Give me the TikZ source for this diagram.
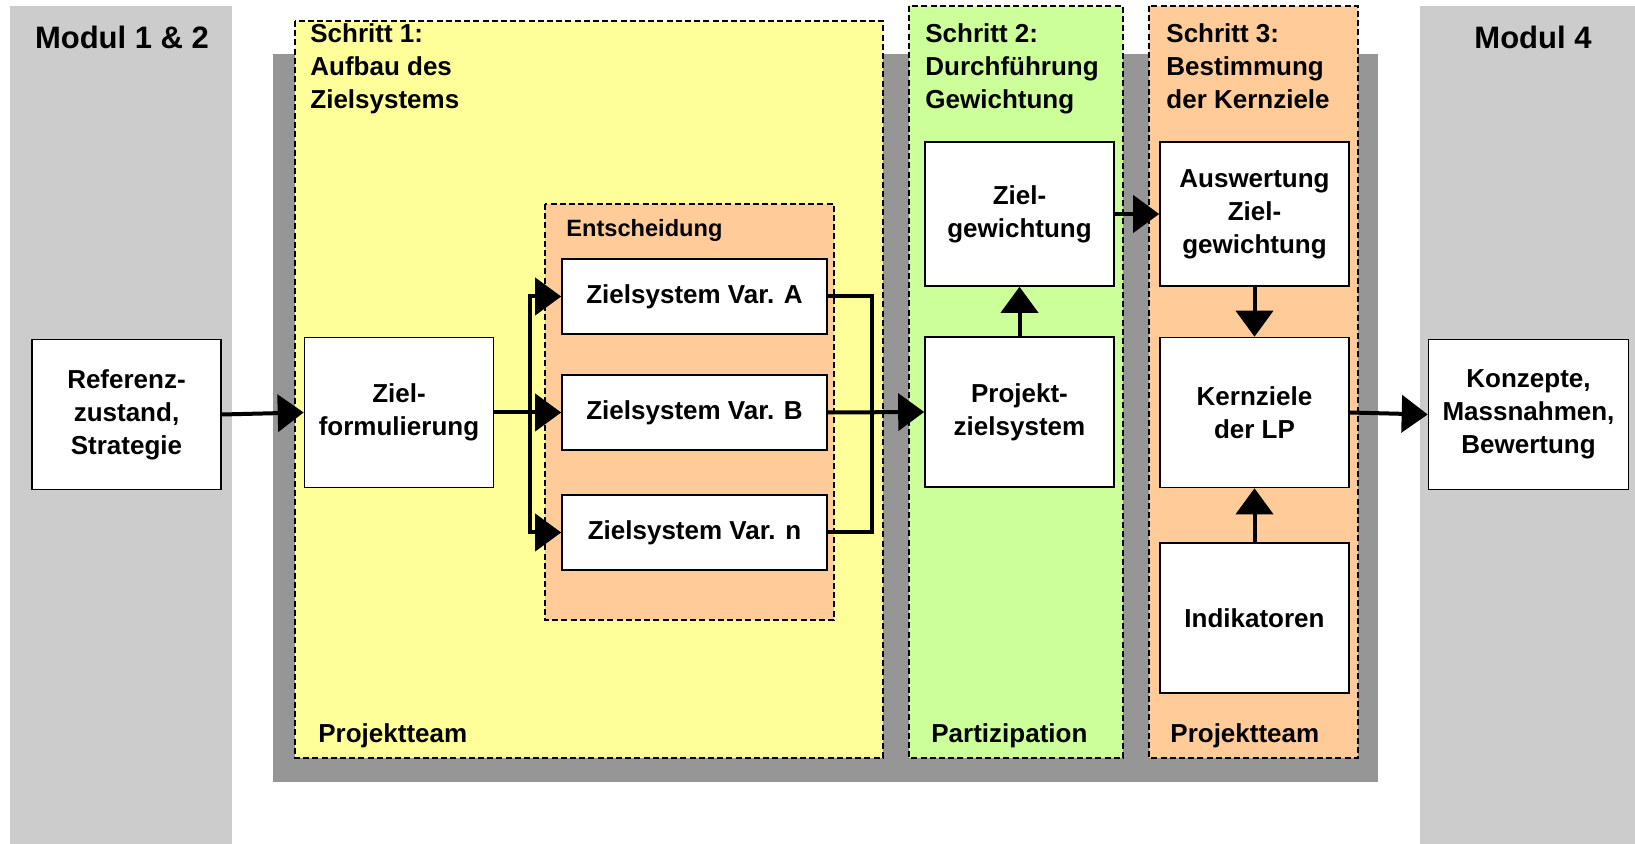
\documentclass[tikz,border=0pt]{standalone}
\usepackage{fontspec}
\setmainfont{Liberation Sans}
\usetikzlibrary{arrows.meta}

\definecolor{modulgray}{RGB}{204,204,204}
\definecolor{backgray}{RGB}{150,150,150}
\definecolor{stepyellow}{RGB}{255,255,153}
\definecolor{stepgreen}{RGB}{204,255,153}
\definecolor{steporange}{RGB}{255,204,153}

\tikzset{
  stepfield/.style={draw=black, line width=0.8pt, dash pattern=on 3pt off 1.6pt},
  bigbox/.style={draw, fill=white, line width=0.8pt, align=center, inner sep=0pt,
    minimum width=94.5pt, minimum height=75pt},
  varbox/.style={draw, fill=white, line width=0.8pt, inner sep=0pt,
    minimum width=132.5pt, minimum height=37.5pt},
  wire/.style={line width=2pt},
  conn/.style={line width=2pt, -{Triangle[length=13pt,width=18.5pt]}},
}

\begin{document}
\begin{tikzpicture}[x=0.5pt,y=-0.5pt]
            \useasboundingbox (0,0) rectangle (1635,844);
            {\bfseries\fontsize{13}{16.5}\selectfont

            % Modul columns left and right
            \fill[modulgray] (10,6) rectangle (232,844);%
            \fill[modulgray] (1420,6) rectangle (1635,844);%
            \node[font=\bfseries\fontsize{15.5}{18}\selectfont, anchor=base] (modA) at (122,49) {Modul 1 \& 2};%
            \node[font=\bfseries\fontsize{15.5}{18}\selectfont, anchor=base] (modB) at (1533,49) {Modul 4};%

            % Background of the three steps
            \fill[backgray] (273,54) rectangle (1378,782);%

            % Step fields
            \draw[stepfield, fill=stepyellow] (295,21) rectangle (883,758);%
            \draw[stepfield, fill=stepgreen] (909,6) rectangle (1123,758);%
            \draw[stepfield, fill=steporange] (1149,6) rectangle (1358,758);%

            % Step titles
            \node[anchor=north west, inner sep=0pt, align=left] (titleA) at (310,23) {Schritt 1:\\Aufbau des\\Zielsystems};%
            \node[anchor=north west, inner sep=0pt, align=left] (titleB) at (925,23) {Schritt 2:\\Durchführung\\Gewichtung};%
            \node[anchor=north west, inner sep=0pt, align=left] (titleC) at (1166,23) {Schritt 3:\\Bestimmung\\der Kernziele};%

            % Step actors
            \node[anchor=base west, inner sep=0pt] (teamA) at (318,742) {Projektteam};%
            \node[anchor=base west, inner sep=0pt] (partB) at (931,742) {Partizipation};%
            \node[anchor=base west, inner sep=0pt] (teamC) at (1170,742) {Projektteam};%

            % Decision field
            \draw[stepfield, fill=steporange] (545,204) rectangle (834,620);%
            \node[font=\bfseries\fontsize{11.8}{14}\selectfont, anchor=base west, inner sep=0pt] (decide) at (566,237) {Entscheidung};%

            % Boxes
            \node[bigbox] (ref) at (126.5,414.5) {Referenz-\\zustand,\\Strategie};%
            \node[bigbox] (form) at (399,412.5) {Ziel-\\formulierung};%
            \node[varbox] (varA) at (694.5,296.5) {Zielsystem Var. A};%
            \node[varbox] (varB) at (694.5,412.5) {Zielsystem Var. B};%
            \node[varbox] (varN) at (694.5,532.5) {Zielsystem Var. n};%
            \node[bigbox, minimum height=72pt] (weight) at (1019.5,214) {Ziel-\\gewichtung};%
            \node[bigbox] (proj) at (1019.5,412) {Projekt-\\zielsystem};%
            \node[bigbox, minimum height=72pt] (eval) at (1254.5,214) {Auswertung\\Ziel-\\gewichtung};%
            \node[bigbox] (core) at (1254.5,412.5) {Kernziele\\der LP};%
            \node[bigbox] (indic) at (1254.5,618) {Indikatoren};%
            \node[bigbox, minimum width=100pt] (conc) at (1528.5,414.5) {Konzepte,\\Massnahmen,\\Bewertung};%

            % Split and join of the variants
            \coordinate (split) at (530,412.5);%
            \coordinate (join) at (872,412.5);%

            % Connectors
            \draw[conn] (ref.east) -- (form.west);%
            \draw[wire] (form.east) -- (split);%
            \draw[conn] (split) |- (varA.west);%
            \draw[conn] (split) -- (varB.west);%
            \draw[conn] (split) |- (varN.west);%
            \draw[wire] (varA.east) -| (join);%
            \draw[wire] (varN.east) -| (join);%
            \draw[conn] (varB.east) -- (proj.west);%
            \draw[conn] (proj.north) -- (weight.south);%
            \draw[conn] (weight.east) -- (eval.west);%
            \draw[conn] (eval.south) -- (core.north);%
            \draw[conn] (indic.north) -- (core.south);%
            \draw[conn] (core.east) -- (conc.west);%
            }
        \end{tikzpicture}
\end{document}
